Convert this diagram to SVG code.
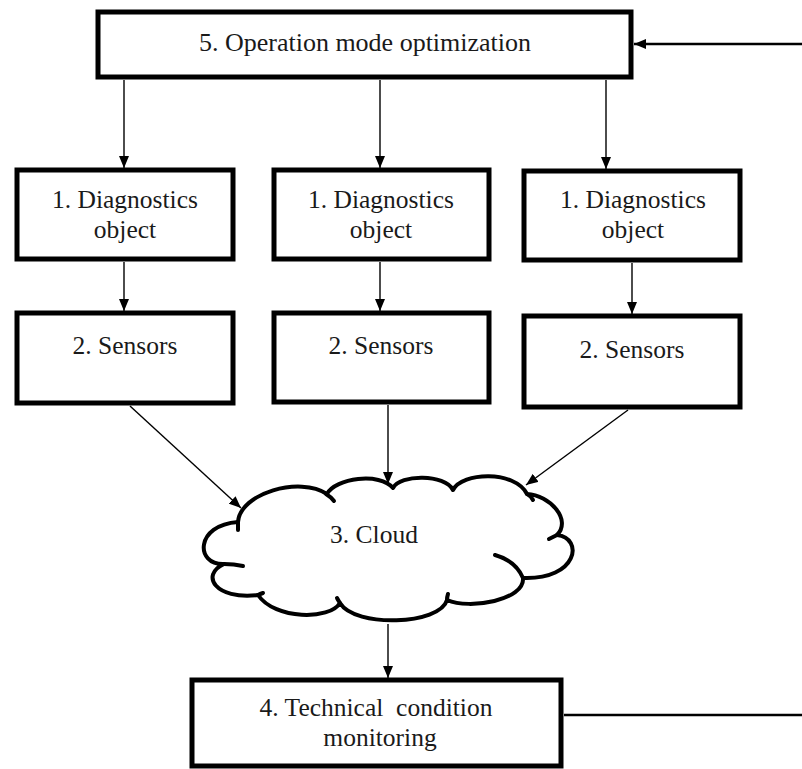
<svg xmlns="http://www.w3.org/2000/svg" width="802" height="769" viewBox="0 0 802 769">
<style>
.box{fill:#fff;stroke:#000;stroke-width:5;stroke-linejoin:miter}
.lbl{font-family:"Liberation Serif","Times New Roman",serif;font-size:25.5px;fill:#1a1a1a;text-anchor:middle}
.c{fill:none;stroke:#000;stroke-width:1.4}
.c2{fill:none;stroke:#000;stroke-width:2.4}
.cloud{fill:#fff;stroke:#000;stroke-width:4;stroke-linecap:round;stroke-linejoin:round}
.hook{fill:none;stroke:#000;stroke-width:4;stroke-linecap:round}
</style>
<defs>
<marker id="ah" viewBox="0 0 12 10" refX="12" refY="5" markerWidth="12" markerHeight="10" markerUnits="userSpaceOnUse" orient="auto">
<path d="M0,0 L12,5 L0,10 z" fill="#000"/>
</marker>
</defs>
<rect x="0" y="0" width="802" height="769" fill="#fff"/>

<g id="n5">
<rect class="box" x="98" y="12" width="533" height="65"/>
<text class="lbl" x="365" y="51" style="font-size:26px">5. Operation mode optimization</text>
</g>

<g id="n1a">
<rect class="box" x="17" y="170" width="216" height="89"/>
<text class="lbl" x="125" y="208">1. Diagnostics</text>
<text class="lbl" x="125" y="238">object</text>
</g>
<g id="n1b">
<rect class="box" x="274" y="170" width="215" height="89"/>
<text class="lbl" x="381" y="208">1. Diagnostics</text>
<text class="lbl" x="381" y="238">object</text>
</g>
<g id="n1c">
<rect class="box" x="524" y="171" width="216" height="89"/>
<text class="lbl" x="633" y="208">1. Diagnostics</text>
<text class="lbl" x="633" y="238">object</text>
</g>

<g id="n2a">
<rect class="box" x="17" y="313" width="216" height="90"/>
<text class="lbl" x="125" y="354">2. Sensors</text>
</g>
<g id="n2b">
<rect class="box" x="274" y="313" width="215" height="89"/>
<text class="lbl" x="381" y="354">2. Sensors</text>
</g>
<g id="n2c">
<rect class="box" x="524" y="316" width="216" height="91"/>
<text class="lbl" x="632" y="358">2. Sensors</text>
</g>

<g id="n3">
<path class="cloud" d="M238,522 C240,493 300,476 327,494 C335,478 380,472 393,488 C400,474 445,474 453,490 C462,472 515,470 527,494 C550,495 572,520 557,535 C584,538 578,580 523,578 C525,600 470,610 447,600 C440,625 355,628 340,603 C330,620 275,620 258,595 C215,600 200,575 224,564 C195,565 195,525 238,522 Z"/>
<path class="hook" d="M326,494 Q331,497 334,501"/>
<path class="hook" d="M527,494 Q531,496 533,500"/>
<path class="hook" d="M557,535 Q553,537 549,539"/>
<path class="hook" d="M495,555 Q516,561 523,578"/>
<path class="hook" d="M447,600 Q447,597 448,594"/>
<path class="hook" d="M340,603 Q338,600 337,598"/>
<path class="hook" d="M258,595 Q260,594 263,593"/>
<path class="hook" d="M224,564 Q234,564 243,566"/>
<path class="hook" d="M238,522 Q238,526 238,530"/>
<text class="lbl" x="374" y="543">3. Cloud</text>
</g>

<g id="n4">
<rect class="box" x="192" y="680" width="369" height="86"/>
<text class="lbl" x="376" y="716" xml:space="preserve">4. Technical  condition</text>
<text class="lbl" x="380" y="746">monitoring</text>
</g>

<g id="connectors">
<line class="c" x1="124" y1="80" x2="124" y2="168" marker-end="url(#ah)"/>
<line class="c" x1="380" y1="80" x2="380" y2="168" marker-end="url(#ah)"/>
<line class="c" x1="606" y1="80" x2="606" y2="169" marker-end="url(#ah)"/>
<line class="c" x1="124" y1="262" x2="124" y2="311" marker-end="url(#ah)"/>
<line class="c" x1="380" y1="262" x2="380" y2="311" marker-end="url(#ah)"/>
<line class="c" x1="632" y1="263" x2="632" y2="314" marker-end="url(#ah)"/>
<line class="c" x1="130" y1="406" x2="241" y2="508" marker-end="url(#ah)"/>
<line class="c" x1="388" y1="405" x2="388" y2="484" marker-end="url(#ah)"/>
<line class="c" x1="628" y1="410" x2="526" y2="485" marker-end="url(#ah)"/>
<line class="c" x1="388" y1="624" x2="388" y2="678" marker-end="url(#ah)"/>
<line class="c2" x1="564" y1="715" x2="802" y2="715"/>
<line class="c2" x1="802" y1="44" x2="634" y2="44" marker-end="url(#ah)"/>
</g>
</svg>
